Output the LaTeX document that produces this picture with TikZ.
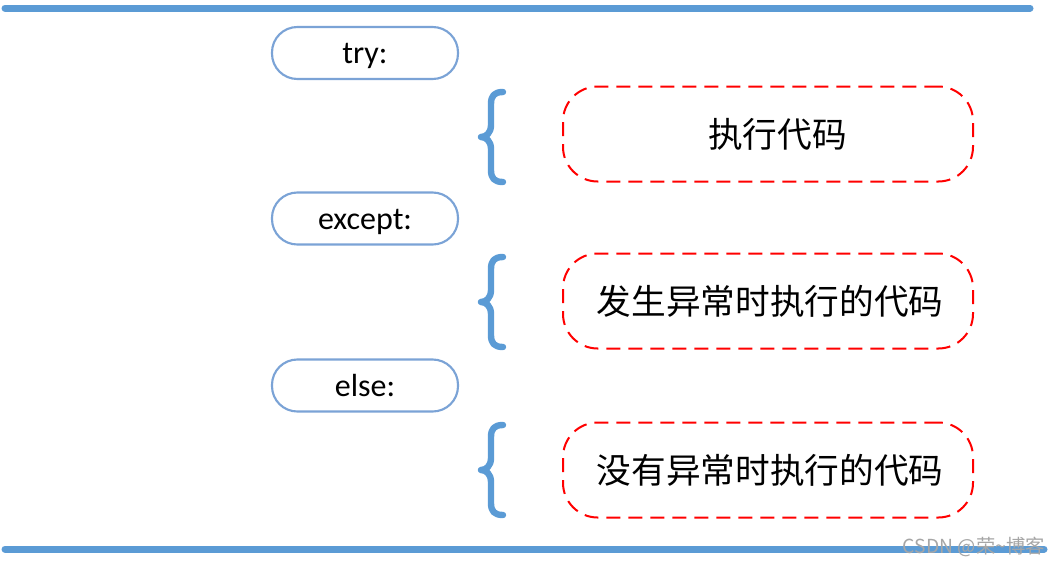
\documentclass[tikz,border=0pt]{standalone}
\usepackage{fontspec}
\setmainfont{Carlito}
\newfontfamily\cjk{Noto Sans CJK SC}
\definecolor{bar}{HTML}{5B9BD5}
\definecolor{boxblue}{HTML}{7BA3D6}
\definecolor{dashred}{HTML}{FF0000}
\begin{document}
\begin{tikzpicture}[x=0.75pt,y=-0.75pt,
  kw/.style={draw=boxblue,line width=1.6pt,rounded corners=19pt,minimum width=139.5pt,minimum height=39pt,font=\fontsize{24}{28}\selectfont,inner sep=0pt,text height=19pt,text depth=3pt},
  code/.style={draw=dashred,line width=1.5pt,dash pattern=on 10.5pt off 6pt,rounded corners=26pt,minimum width=307.5pt,minimum height=71.25pt,font=\cjk\fontsize{26}{30}\selectfont,inner sep=0pt},
  barline/.style={draw=bar,line width=5.25pt,line cap=round},
  bracestyle/.style={draw=bar,line width=4.8pt,line cap=round,line join=round}]
\useasboundingbox (0,0) rectangle (1049,565);
\coordinate (tl) at (5,8);
\coordinate (tr) at (1030,8);
\coordinate (bl) at (5,549);
\coordinate (br) at (1044,549);
\draw[barline] (tl) -- (tr);
\draw[barline] (bl) -- (br);
\node[kw] (try) at (365,53) {try:};
\node[kw] (except) at (365,218.5) {except:};
\node[kw] (else) at (365,385.5) {else:};
\node[code] (c1) at (768,134) {\hspace*{14pt}执行代码};
\node[code] (c2) at (768,301) {\hspace*{3pt}发生异常时执行的代码};
\node[code] (c3) at (768,470) {\hspace*{3pt}没有异常时执行的代码};
\foreach \n/\y in {b1/137,b2/302,b3/470}{
  \draw[bracestyle] (503,\y-45) .. controls (494,\y-45) and (491,\y-41) .. (491,\y-33)
    -- (491,\y-12) .. controls (491,\y-4) and (486,\y) .. (481,\y)
    .. controls (486,\y) and (491,\y+4) .. (491,\y+12)
    -- (491,\y+33) .. controls (491,\y+41) and (494,\y+45) .. (503,\y+45);
}
\node[font=\cjk\fontsize{14.5}{17}\selectfont,text=gray!70,anchor=east,inner sep=0pt] (wm) at (1045,547) {CSDN @荣\textasciitilde 博客};
\end{tikzpicture}
\end{document}
